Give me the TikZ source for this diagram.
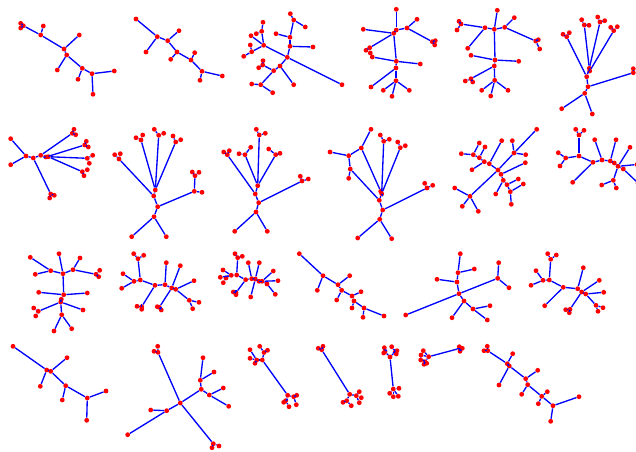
\documentclass[tikz,border=0pt]{standalone}
\begin{document}
\begin{tikzpicture}[x=0.75pt,y=-0.75pt,
  dot/.style={circle,fill=red,draw=none,inner sep=0pt,minimum size=3.6pt},
  edge/.style={draw=blue,line width=1pt}]
\useasboundingbox (0,0) rectangle (636,451);
\foreach \n/\x/\y in {
A1/23.3/25.7,A2/20.7/23.3,A3/20.7/28,A4/40.7/35,A5/43.3/26,A6/64/49,A7/79.3/35,A8/66.7/55,A9/57.3/70,A10/82.3/68.3,A11/78/79.3,A12/92/73.7,A13/114.3/71,A14/93/94.3,
B1/136/19,B2/157.3/36.7,B3/146/52,B4/167.7/40.7,B5/179/30.7,B6/177/52,B7/170.7/59.3,B8/191/60,B9/194.7/52.7,B10/202/71.3,B11/200/80.3,B12/222.3/76,
C1/293.7/20,C2/290.3/13.7,C3/305.3/27,C4/290/37.3,C5/276/33.7,C6/290/46.3,C7/313/47,C8/287.3/57.3,C9/342/84.7,C10/263.7/45.3,C11/261.7/31.3,C12/263/22.3,C13/256.3/33.7,C14/251/35.7,C15/251.7/51.7,C16/250.3/45,C17/243.7/56.3,C18/280/66,C19/293.7/84.7,C20/273.7/70.7,C21/262.7/65,C22/263/60.7,C23/258.7/67.7,C24/260.7/84.7,C25/251.7/84,C26/272.7/92.7,
D1/396.3/9.3,D2/396.3/30,D3/393.7/33.3,D4/407/28,D5/417/19.3,D6/432.3/41.7,D7/435.3/40.7,D8/434.7/45,D9/363.3/29.3,D10/369.7/47.7,D11/366/50.3,D12/370.3/53,D13/396.3/61.3,D14/420.3/64,D15/372.3/57,D16/396/68,D17/371/87,D18/396/80.7,D19/383.3/90.3,D20/392/96.3,D21/409.3/90.3,
E1/497.3/10.3,E2/494.3/29.3,E3/485/27.7,E4/461/24,E5/459/21.3,E6/457/30,E7/467.7/48.3,E8/504.7/27.3,E9/514.3/17.7,E10/535.7/41,E11/538.3/39.7,E12/539.7/49,E13/495/60,E14/471/55.3,E15/518.7/61.3,E16/494.3/66,E17/471/78.7,E18/465.3/81,E19/472.7/82,E20/494.7/80.3,E21/481.7/90.3,E22/490.7/96,E23/508/90.3,
F1/586.7/76.7,F2/589.3/68.3,F3/589.7/71,F4/566.7/36.7,F5/563/34.3,F6/569.3/32.7,F7/584.3/25,F8/581.7/19.7,F9/589/25.3,F10/600/22,F11/597.7/17,F12/604.7/20.7,F13/613.7/30.7,F14/610.7/27.3,F15/617.3/26.7,F16/588/86.7,F17/633.3/72.7,F18/633.3/68.7,F19/584.7/93.3,F20/561.7/108.7,F21/592.3/114,
G1/10.7/138.7,G2/26/156,G3/10.7/164.7,G4/33.3/158,G5/50.7/194,G6/49.7/198,G7/54.3/195.3,G8/40.7/155.3,G9/46/157,G10/48.3/156.7,G11/72.3/133.3,G12/74/129.3,G13/75.7/134.7,G14/84.7/145,G15/86.3/141.3,G16/88.3/147,G17/87.3/158.3,G18/92.7/155.3,G19/89.3/163.3,G20/82.3/171.7,G21/87.3/169.7,G22/84/175.7,
H1/154/216.7,H2/131.7/236.7,H3/166.3/236.7,H4/157.7/206.7,H5/153.7/196,H6/194.3/191.3,H7/202/192.3,H8/195/175.7,H9/192.3/172,H10/199/172.3,H11/155.3/190,H12/119/159,H13/114.7/154.7,H14/120.3/153.7,H15/141/140,H16/136/137.7,H17/142.7/135,H18/158.7/135.3,H19/154.3/129.3,H20/163.7/133.3,H21/175.7/142,H22/173/136,H23/180.7/139.7,
I1/256/212,I2/234.7/231.3,I3/267.3/231.3,I4/258.7/202.7,I5/302/181,I6/300.3/176.3,I7/308.3/179,I8/255.3/194,I9/257.7/185.7,I10/227.3/154.7,I11/223.7/152,I12/229.3/150.7,I13/245/154.7,I14/239/153.7,I15/250.7/147.3,I16/259.3/135,I17/256.3/129.3,I18/265.3/133.3,I19/275.7/154.7,I20/268.7/149,I21/280/153.3,
J1/379.7/219.3,J2/357.7/238,J3/391.7/238.7,J4/382.7/210,J5/427/188,J6/424.7/183.3,J7/432.7/185.3,J8/379.3/200.3,J9/381.7/193.7,J10/380.7/191.3,J11/350.3/169,J12/348.7/155.7,J13/348.7/178.3,J14/330/152,J15/361.3/148,J16/371/129.3,J17/383.7/141.3,J18/380.3/135,J19/389.3/139.3,J20/400.3/147.7,J21/397.7/142,J22/405.3/145.7,
K1/470/196.3,K2/454.7/188,K3/462.3/206.3,K4/478.3/211.3,K5/498/170,K6/501/174.3,K7/489.3/163.7,K8/501.7/140.7,K9/484.3/161.7,K10/472/169.7,K11/479.3/157.7,K12/485/147,K13/473.3/154.7,K14/461.3/153.7,K15/479.3/143,K16/514/153,K17/512.3/140.7,K18/525.7/154.7,K19/536.7/129.3,K20/525.3/162.7,K21/503.3/180.3,K22/507/184.7,K23/495.7/194,K24/518.3/179,K25/510.3/191.7,K26/523.3/184,K27/511.3/204.3,
L1/579/156,L2/579/135,L3/575.7/129.3,L4/584/130.3,L5/565.7/158,L6/558.3/152.7,L7/560/166,L8/593/162.3,L9/572.7/182.3,L10/602/160,L11/594.7/139.7,L12/610.3/161,L13/616/139.7,L14/614.3/163,L15/618/166.3,L16/630/147.3,L17/637/164.5,L18/623.3/169,L19/638/183,L20/613.3/180.3,L21/601.7/185,L22/616.3/188,
M1/61.7/314.7,M2/54/331,M3/71.7/328.7,M4/60.7/302,M5/83/310,M6/38.3/311.3,M7/33.7/308,M8/35.7/316,M9/61.3/299.3,M10/63.7/294.7,M11/38.7/292.3,M12/87.3/293,M13/63/273.7,M14/59/253.7,M15/50.7/270.7,M16/30.3/257.3,M17/35.3/274.3,M18/73/269.7,M19/80/258,M20/96/274.3,M21/99.7/270.3,M22/98.7/276.7,
N1/140.3/280,N2/138/258.7,N3/133.7/253.7,N4/143.7/255.3,N5/134/281.3,N6/123/273.7,N7/121.7/288.3,N8/155/285.3,N9/141.7/306.7,N10/137/306.3,N11/141.7/309.3,N12/165/284.7,N13/166.3/262.7,N14/171.7/288,N15/180.3/265.7,N16/159.3/307.3,N17/157.3/306.7,N18/161.3/310,N19/175.7/289.3,N20/194/280.7,N21/189.3/300.3,N22/199/302.3,N23/192.7/308.7,
O1/236.7/275,O2/237.7/257.7,O3/235/253.7,O4/242.3/256.3,O5/231.3/275.3,O6/223/270,O7/220.3/277.3,O8/226/278,O9/223.3/282.7,O10/245.7/279.7,O11/236/292.7,O12/233.3/292,O13/236/294.7,O14/251.7/278.7,O15/248.3/262.7,O16/255.3/279,O17/259.3/262.7,O18/250.7/297,O19/259/281.3,O20/262/281.3,O21/273.3/271,O22/278/280.7,O23/267/284,O24/275.3/294.3,
P1/299.3/253.7,P2/323/275.7,P3/317.3/290.3,P4/338/284.7,P5/349.7/275.7,P6/341.7/290.3,P7/336.7/300,P8/352/296,P9/361/291.7,P10/354/301,P11/352/308,P12/364/308,P13/363/317.3,P14/384/316,
Q1/405.7/315,Q2/459/293.7,Q3/497.7/278.3,Q4/498.7/262.7,Q5/509/287.7,Q6/457/282,Q7/437/279.3,Q8/458/272.7,Q9/460.3/253.7,Q10/474.3/269,Q11/464/301,Q12/452/317.7,Q13/473/309,Q14/490/305.7,Q15/487.3/320,
R1/563.3/287.3,R2/544.7/305.7,R3/549.3/280,R4/543/280.3,R5/536/270.7,R6/531/285.3,R7/550.7/259.3,R8/547.7/253.7,R9/556.3/255,R10/577.7/288.7,R11/583.3/267.7,R12/581.7/292,R13/599.3/280.3,R14/570/309.3,R15/565.7/309.7,R16/569.3/312.7,R17/585.7/294,R18/603.7/292.3,R19/596/305.3,R20/603/307.7,R21/598/311.3,
S1/13/346.3,S2/46.7/370,S3/50.7/371.3,S4/40.3/386.3,S5/67/357.7,S6/65.7/385.7,S7/62.3/400,S8/87.3/398,S9/106/391,S10/86.7/420.3,
T1/180.3/403,T2/158/352.3,T3/157.7/346.3,T4/154/351.3,T5/166.7/410.7,T6/150.7/410,T7/127.7/434.7,T8/201.3/389.3,T9/200.3/380.3,T10/203/357.7,T11/214/372,T12/209.3/395,T13/223.3/388,T14/228.7/406.3,T15/213.3/443.7,T16/219/446,T17/212/447.7,
U1/262.3/360,U2/256.7/360,U3/250/349.7,U4/250/358.3,U5/255/363.3,U6/264/352.5,U7/259.7/346.3,U8/267.5/350.3,U9/287.7/395.3,U10/285.7/400.7,U11/283.7/402.3,U12/289/406.7,U13/293.7/396.7,U14/296.7/395.3,U15/296.3/404.7,
V1/321.7/349.7,V2/318.3/348.3,V3/323/346.3,V4/349.7/394.3,V5/346.7/400.7,V6/343/402.3,V7/351.3/405.7,V8/356.3/395.7,V9/359.3/391.7,V10/361.3/397.7,V11/359.3/402.7,
W1/390/357,W2/385/351.7,W3/384.3/347.7,W4/383.7/353,W5/395.3/351.7,W6/391.7/346.7,W7/397/350.7,W8/396.3/354,W9/393.3/389,W10/389.7/393.3,W11/393.3/396.7,W12/398.3/396.3,W13/399/388.3,
X1/428.7/356.7,X2/423.3/350.7,X3/421/355,X4/420.7/360,X5/425/361.7,X6/424/364.3,X7/426.7/363.3,X8/460/348.3,X9/459.3/346.7,X10/462.3/348.3,X11/460/351.3,
Y1/487.7/350.7,Y2/484/350.7,Y3/487.3/346.3,Y4/507.3/363.7,Y5/512.7/353.7,Y6/509.3/366,Y7/499/385,Y8/525.7/378.7,Y9/537.7/370.3,Y10/527.7/384.7,Y11/521.7/394.3,Y12/541.7/396.3,Y13/547.3/391.7,Y14/538.3/403.7,Y15/553/405.7,Y16/579/396.7,Y17/550.7/421.3}
  \node[dot] (\n) at (\x,\y) {};
\foreach \a/\b in {
A1/A2,A1/A3,A1/A4,A4/A5,A4/A6,A6/A7,A6/A8,A8/A9,A8/A10,A10/A11,A10/A12,A12/A13,A12/A14,
B1/B2,B2/B3,B2/B4,B4/B5,B4/B6,B6/B7,B6/B8,B8/B9,B8/B10,B10/B11,B10/B12,
C1/C2,C1/C3,C1/C4,C4/C5,C4/C6,C6/C7,C6/C8,C8/C9,C8/C10,C10/C11,C11/C12,C11/C13,C10/C14,C10/C15,C15/C16,C15/C17,C8/C18,C18/C19,C18/C20,C20/C21,C21/C22,C21/C23,C20/C24,C24/C25,C24/C26,
D1/D2,D2/D3,D2/D4,D4/D5,D4/D6,D6/D7,D6/D8,D3/D9,D3/D10,D10/D11,D10/D12,D3/D13,D13/D14,D13/D15,D13/D16,D16/D17,D16/D18,D18/D19,D18/D20,D18/D21,
E1/E2,E2/E3,E3/E4,E4/E5,E4/E6,E3/E7,E2/E8,E8/E9,E8/E10,E10/E11,E10/E12,E2/E13,E13/E14,E13/E15,E13/E16,E16/E17,E17/E18,E17/E19,E16/E20,E20/E21,E20/E22,E20/E23,
F1/F2,F2/F3,F1/F4,F4/F5,F4/F6,F2/F7,F7/F8,F7/F9,F2/F10,F10/F11,F10/F12,F3/F13,F13/F14,F13/F15,F1/F16,F16/F17,F17/F18,F16/F19,F19/F20,F19/F21,
G1/G2,G2/G3,G2/G4,G4/G5,G5/G6,G5/G7,G4/G8,G8/G9,G9/G10,G8/G11,G11/G12,G11/G13,G9/G14,G14/G15,G14/G16,G10/G17,G17/G18,G17/G19,G10/G20,G20/G21,G20/G22,
H1/H2,H1/H3,H1/H4,H4/H5,H4/H6,H6/H7,H6/H8,H8/H9,H8/H10,H5/H11,H5/H12,H12/H13,H12/H14,H11/H15,H15/H16,H15/H17,H11/H18,H18/H19,H18/H20,H11/H21,H21/H22,H21/H23,
I1/I2,I1/I3,I1/I4,I4/I5,I5/I6,I5/I7,I4/I8,I8/I9,I8/I10,I10/I11,I10/I12,I9/I13,I13/I14,I13/I15,I9/I16,I16/I17,I16/I18,I9/I19,I19/I20,I19/I21,
J1/J2,J1/J3,J1/J4,J4/J5,J5/J6,J5/J7,J4/J8,J8/J9,J9/J10,J8/J11,J11/J12,J11/J13,J12/J14,J12/J15,J15/J16,J15/J10,J9/J17,J17/J18,J17/J19,J9/J20,J20/J21,J20/J22,
K1/K2,K1/K3,K1/K4,K1/K5,K5/K6,K5/K7,K7/K8,K7/K9,K9/K10,K9/K11,K11/K12,K11/K13,K13/K14,K13/K15,K5/K16,K16/K17,K16/K18,K16/K19,K6/K20,K6/K21,K21/K22,K21/K23,K22/K24,K22/K25,K25/K26,K25/K27,
L1/L2,L2/L3,L2/L4,L1/L5,L5/L6,L5/L7,L1/L8,L8/L9,L8/L10,L10/L11,L10/L12,L12/L13,L12/L14,L14/L15,L15/L16,L15/L17,L15/L18,L18/L19,L15/L20,L20/L21,L20/L22,
M1/M2,M1/M3,M1/M4,M4/M5,M4/M6,M6/M7,M6/M8,M4/M9,M9/M10,M10/M11,M10/M12,M10/M13,M13/M14,M13/M15,M15/M16,M15/M17,M13/M18,M18/M19,M18/M20,M20/M21,M20/M22,
N1/N2,N2/N3,N2/N4,N1/N5,N5/N6,N5/N7,N1/N8,N8/N9,N9/N10,N9/N11,N8/N12,N12/N13,N12/N14,N14/N15,N14/N16,N16/N17,N16/N18,N14/N19,N19/N20,N19/N21,N21/N22,N21/N23,
O1/O2,O2/O3,O2/O4,O1/O5,O5/O6,O5/O7,O5/O8,O8/O9,O1/O10,O10/O11,O11/O12,O11/O13,O10/O14,O14/O15,O14/O16,O16/O17,O16/O18,O16/O19,O19/O20,O20/O21,O20/O22,O20/O23,O23/O24,
P1/P2,P2/P3,P2/P4,P4/P5,P4/P6,P6/P7,P6/P8,P8/P9,P8/P10,P10/P11,P10/P12,P12/P13,P12/P14,
Q1/Q2,Q2/Q3,Q3/Q4,Q3/Q5,Q2/Q6,Q6/Q7,Q6/Q8,Q8/Q9,Q8/Q10,Q2/Q11,Q11/Q12,Q11/Q13,Q13/Q14,Q13/Q15,
R1/R2,R1/R3,R3/R4,R4/R5,R4/R6,R3/R7,R7/R8,R7/R9,R1/R10,R10/R11,R10/R12,R12/R13,R12/R14,R14/R15,R14/R16,R12/R17,R17/R18,R17/R19,R19/R20,R19/R21,
S1/S2,S2/S3,S2/S4,S3/S5,S3/S6,S6/S7,S6/S8,S8/S9,S8/S10,
T1/T2,T2/T3,T2/T4,T1/T5,T5/T6,T5/T7,T1/T8,T8/T9,T9/T10,T9/T11,T8/T12,T12/T13,T12/T14,T1/T15,T15/T16,T15/T17,
U1/U2,U2/U3,U2/U4,U2/U5,U1/U6,U6/U7,U6/U8,U1/U9,U9/U10,U10/U11,U10/U12,U9/U13,U13/U14,U13/U15,
V1/V2,V1/V3,V1/V4,V4/V5,V5/V6,V5/V7,V4/V8,V8/V9,V8/V10,V8/V11,
W1/W2,W2/W3,W2/W4,W1/W5,W5/W6,W5/W7,W5/W8,W1/W9,W9/W10,W9/W11,W9/W12,W9/W13,
X1/X2,X1/X3,X3/X4,X1/X5,X5/X6,X5/X7,X1/X8,X8/X9,X8/X10,X8/X11,
Y1/Y2,Y1/Y3,Y1/Y4,Y4/Y5,Y4/Y6,Y6/Y7,Y6/Y8,Y8/Y9,Y8/Y10,Y10/Y11,Y10/Y12,Y12/Y13,Y12/Y14,Y12/Y15,Y15/Y16,Y15/Y17}
  \draw[edge] (\a) -- (\b);
\end{tikzpicture}
\end{document}
